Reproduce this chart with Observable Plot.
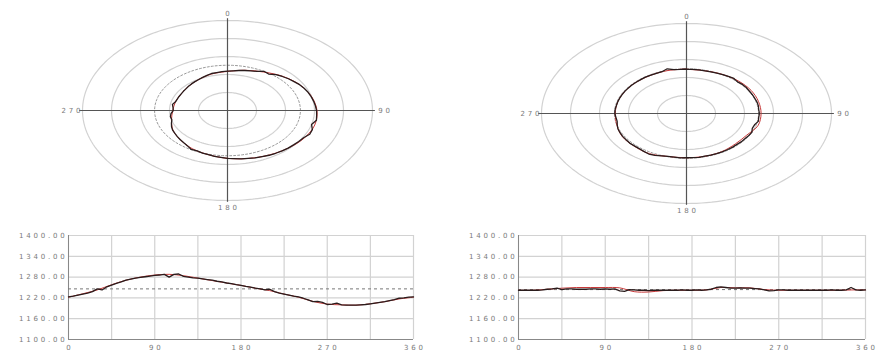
<!DOCTYPE html>
<html><head><meta charset="utf-8">
<script src="https://cdn.jsdelivr.net/npm/d3@7"></script>
<script src="https://cdn.jsdelivr.net/npm/@observablehq/plot@0.6"></script>
<style>
body{margin:0;background:#fff}
#wrap{position:relative;width:893px;height:361px;overflow:hidden;background:#fff}
#wrap svg{position:absolute;overflow:visible}
#wrap text{letter-spacing:2.8px}
</style></head><body><div id="wrap"></div>
<script>
// ---- data ----
const angles5 = [0,5,10,15,20,25,30,35,40,45,50,55,60,65,70,75,80,85,90,95,100,105,110,115,120,125,130,135,140,145,150,155,160,165,170,175,180,185,190,195,200,205,210,215,220,225,230,235,240,245,250,255,260,265,270,275,280,285,290,295,300,305,310,315,320,325,330,335,340,345,350,355,360];
const angles15 = [0,15,30,45,60,75,90,105,120,135,150,165,180,195,210,225,240,255,270,285,300,315,330,345,360];

const leftMeasured = [1223,1225,1228,1231,1234,1238,1246,1243,1252,1257,1262,1266,1271,1274,1277,1279,1281,1283,1285,1286,1288,1280,1288,1289,1282,1280,1278,1277,1275,1273,1271,1268,1266,1263,1261,1258,1256,1253,1251,1248,1246,1243,1245,1238,1234,1231,1228,1225,1223,1219,1214,1209,1210,1207,1201,1202,1205,1200,1199,1199,1199,1200,1201,1203,1205,1207,1209,1212,1215,1219,1220,1222,1223];
const leftFitted = [1222,1232,1243,1258,1271,1280,1286,1288,1284,1277,1270,1263,1256,1248,1241,1231,1222,1210,1202,1200,1199,1203,1209,1217,1222];

const rightMeasured = [1242,1242,1242,1242,1242,1243,1245,1246,1248,1244,1246,1246,1245,1245,1245,1246,1246,1245,1246,1245,1246,1240,1239,1244,1243,1242,1242,1241,1242,1242,1242,1242,1242,1242,1243,1242,1242,1243,1242,1243,1245,1250,1252,1250,1248,1248,1249,1248,1248,1247,1246,1243,1240,1241,1243,1243,1242,1242,1242,1242,1242,1242,1242,1242,1242,1243,1242,1242,1243,1250,1243,1242,1243];
const rightFitted = [1242,1242,1245,1248,1250,1250,1250,1249,1238,1237,1241,1242,1242,1243,1250,1249,1249,1244,1242,1242,1242,1242,1242,1243,1243];

const leftMean = 1246;
const rightMean = 1244;

const yTicks = [1100,1160,1220,1280,1340,1400];
const xTicks = [0,90,180,270,360];
const xGrid = [0,45,90,135,180,225,270,315,360];
const ringValues = [1140,1210,1280,1350,1420];
const polarOrigin = 1070;
const polarLabels = [{a:0,t:"0"},{a:90,t:"90"},{a:180,t:"180"},{a:270,t:"270"}];

const BLACK = "#2a1c1c", RED = "#c83a3a", GRID = "#d2d2d2", TXT = "#7a7a7a";

const series = (angles, vals) => angles.map((a,i) => ({a, v: vals[i]}));

// ---- polar plot ----
function polar(meas, fit, mean, cx, cy) {
  const R = ringValues[ringValues.length-1] - polarOrigin;
  const rx = 145, ry = 90;
  const toXY = (a, v) => { const r = v - polarOrigin, t = a*Math.PI/180; return {x: r*Math.sin(t), y: r*Math.cos(t)}; };
  const ring = v => d3.range(0, 361, 2).map(a => toXY(a, v));
  const pts = s => s.map(d => toXY(d.a, d.v));
  const ext = R + 7;
  const lab = polarLabels.map(d => ({...toXY(d.a, polarOrigin + R + 28), t: d.t}));
  return Plot.plot({
    width: 450, height: 220, margin: 0,
    x: {domain: [-R, R], range: [cx - rx, cx + rx], axis: null},
    y: {domain: [-R, R], range: [cy + ry, cy - ry], axis: null},
    marks: [
      ...ringValues.map(v => Plot.line(ring(v), {x: "x", y: "y", stroke: GRID, strokeWidth: 1.2})),
      Plot.line(ring(mean), {x: "x", y: "y", stroke: "#999", strokeWidth: 1, strokeDasharray: "2,2"}),
      Plot.ruleX([0], {y1: -ext, y2: ext, stroke: "#555", strokeWidth: 1.2}),
      Plot.ruleY([0], {x1: -ext, x2: ext, stroke: "#555", strokeWidth: 1.2}),
      Plot.line(pts(fit), {x: "x", y: "y", stroke: RED, strokeWidth: 1, curve: "catmull-rom"}),
      Plot.line(pts(meas), {x: "x", y: "y", stroke: BLACK, strokeWidth: 1.3}),
      Plot.text(lab, {x: "x", y: "y", text: "t", dx: 1.4, fontSize: 7, fill: TXT, fontFamily: "DejaVu Sans"})
    ]
  });
}

// ---- line chart ----
function lineChart(meas, fit, mean, x0, x1) {
  return Plot.plot({
    width: 450, height: 141, margin: 0,
    x: {domain: [0, 360], range: [x0, x1], axis: null},
    y: {domain: [1100, 1400], range: [119, 15], axis: null},
    marks: [
      Plot.ruleX(xGrid, {y1: 1100, y2: 1400, stroke: GRID, strokeWidth: 1.2}),
      Plot.ruleY(yTicks, {x1: 0, x2: 360, stroke: GRID, strokeWidth: 1.2}),
      Plot.ruleX([0], {y1: 1100, y2: 1400, stroke: "#888"}),
      Plot.ruleY([1100], {x1: 0, x2: 360, stroke: "#888"}),
      Plot.ruleY([mean], {x1: 0, x2: 360, stroke: "#777", strokeDasharray: "3,3"}),
      Plot.line(fit, {x: "a", y: "v", stroke: RED, strokeWidth: 1, curve: "catmull-rom"}),
      Plot.line(meas, {x: "a", y: "v", stroke: BLACK, strokeWidth: 1.3}),
      Plot.text(yTicks, {x: 0, y: d => d, text: d => d3.format(".2f")(d), textAnchor: "end", dx: -1, fontSize: 7, fill: TXT, fontFamily: "DejaVu Sans"}),
      Plot.text(xTicks, {x: d => d, y: 1100, text: d => String(d), dx: 1.4, dy: 8, fontSize: 7, fill: TXT, fontFamily: "DejaVu Sans"})
    ]
  });
}

const wrap = document.getElementById("wrap");
function place(svg, left, top) { svg.style.left = left + "px"; svg.style.top = top + "px"; wrap.appendChild(svg); }

place(polar(series(angles5, leftMeasured), series(angles15, leftFitted), leftMean, 227, 110), 0, 0);
place(polar(series(angles5, rightMeasured), series(angles15, rightFitted), rightMean, 236, 113), 450, 0);
place(lineChart(series(angles5, leftMeasured), series(angles15, leftFitted), leftMean, 68, 413), 0, 220);
place(lineChart(series(angles5, rightMeasured), series(angles15, rightFitted), rightMean, 68, 415), 450, 220);
</script></body></html>
